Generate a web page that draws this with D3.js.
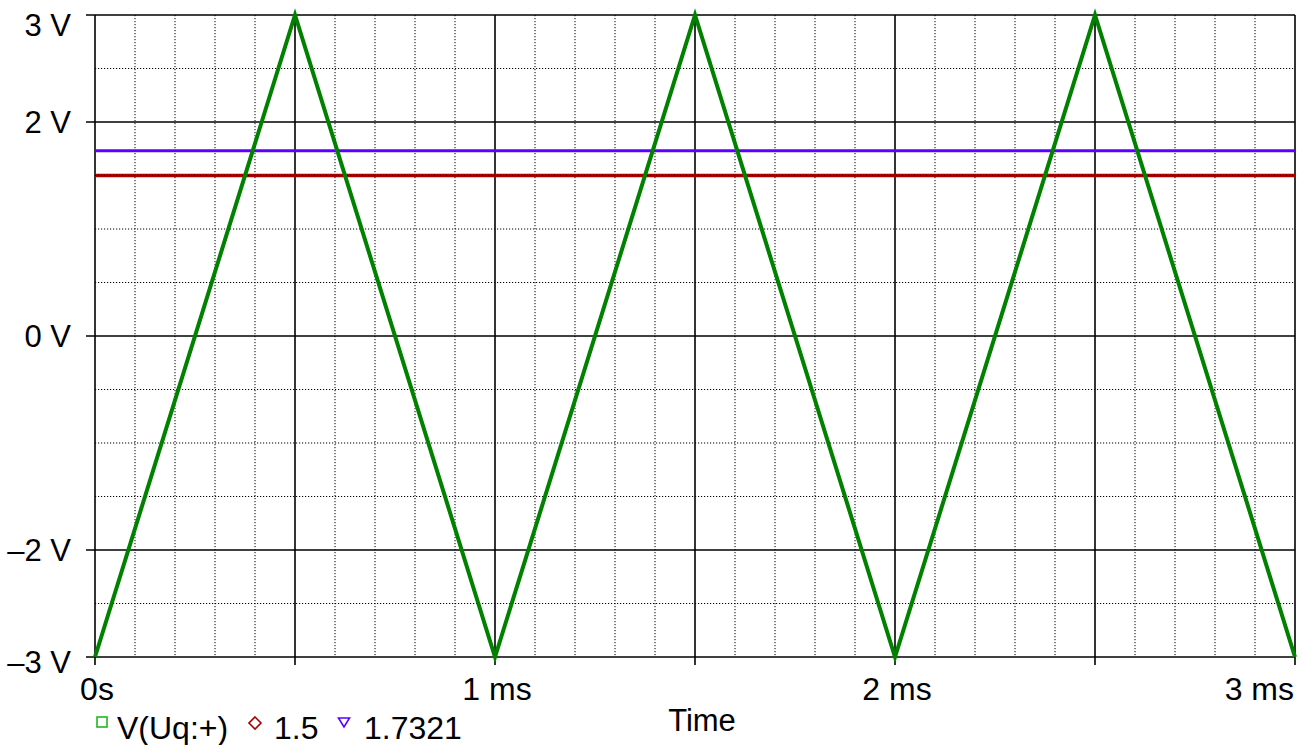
<!DOCTYPE html>
<html>
<head>
<meta charset="utf-8">
<script src="https://cdn.jsdelivr.net/npm/d3@7"></script>
<style>
  html, body { margin: 0; padding: 0; background: #fff; }
  svg { display: block; font-family: "Liberation Sans", Arial, sans-serif; }
</style>
</head>
<body>
<svg id="chart" width="1312" height="745"></svg>
<script>
// Triangle waveform V(Uq:+) in ms / volts
const timeMs = [0, 0.5, 1, 1.5, 2, 2.5, 3];
const vTriangle = [-3, 3, -3, 3, -3, 3, -3];
// Constant reference traces
const level15 = 1.5;
const level17321 = 1.7321;

// Axis tick values and labels
const yTickValues = [3, 2, 0, -2, -3];
const yTickLabels = ["3 V", "2 V", "0 V", "\u20132 V", "\u20133 V"];
const xTickValues = [0, 1, 2, 3];
const xTickLabels = ["0s", "1 ms", "2 ms", "3 ms"];
const legendLabels = ["V(Uq:+)", "1.5", "1.7321"];

(function () {
  const svg = d3.select("#chart");
  const pLeft = 95, pRight = 1295, pTop = 15, pBottom = 657;

  const x = d3.scaleLinear().domain([0, 3]).range([pLeft, pRight]);
  const y = d3.scaleLinear().domain([-3, 3]).range([pBottom, pTop]);

  const FONT = 31;
  const FONT_X = 32;

  // Vertical grid: dotted every 0.1 ms, solid every 0.5 ms
  const gGridV = svg.append("g");
  const minorX = d3.range(0, 31).map(i => i / 10).filter(t => Math.round(t * 10) % 5 !== 0);
  const majorX = d3.range(0, 7).map(i => i / 2);
  gGridV.selectAll("line.mx").data(minorX).join("line")
    .attr("x1", d => x(d)).attr("x2", d => x(d))
    .attr("y1", pTop).attr("y2", pBottom)
    .attr("stroke", "#000").attr("stroke-width", 1).attr("stroke-dasharray", "1.2,1.8");

  // Red constant trace sits beneath the horizontal grid
  svg.append("line")
    .attr("x1", x(0)).attr("x2", x(3))
    .attr("y1", y(level15)).attr("y2", y(level15))
    .attr("stroke", "#a80000").attr("stroke-width", 3.5);

  // Horizontal grid: dotted every 0.5 V, solid at labelled values
  const gGridH = svg.append("g");
  const minorY = d3.range(-6, 7).map(i => i / 2).filter(v => !yTickValues.includes(v));
  gGridH.selectAll("line.my").data(minorY).join("line")
    .attr("x1", pLeft).attr("x2", pRight)
    .attr("y1", d => y(d)).attr("y2", d => y(d))
    .attr("stroke", "#000").attr("stroke-width", 1).attr("stroke-dasharray", "1.2,1.8");
  gGridH.selectAll("line.My").data(yTickValues).join("line")
    .attr("x1", pLeft - 9).attr("x2", pRight)
    .attr("y1", d => y(d)).attr("y2", d => y(d))
    .attr("stroke", "#000").attr("stroke-width", 1.6);
  gGridV.selectAll("line.Mx").data(majorX).join("line")
    .attr("x1", d => x(d)).attr("x2", d => x(d))
    .attr("y1", pTop).attr("y2", pBottom + 8)
    .attr("stroke", "#000").attr("stroke-width", 1.6);

  // Blue constant trace
  svg.append("line")
    .attr("x1", x(0)).attr("x2", x(3))
    .attr("y1", y(level17321)).attr("y2", y(level17321))
    .attr("stroke", "#5a00ff").attr("stroke-width", 3);

  // Triangle waveform
  const pts = timeMs.map((t, i) => [t, vTriangle[i]]);
  svg.append("path")
    .datum(pts)
    .attr("d", d3.line().x(d => x(d[0])).y(d => y(d[1])))
    .attr("fill", "none").attr("stroke", "#008200").attr("stroke-width", 4)
    .attr("stroke-linejoin", "miter");

  // Y tick labels
  svg.append("g").selectAll("text").data(yTickValues).join("text")
    .attr("x", 71)
    .attr("y", d => Math.max(y(d), pTop + 10) + 0.35 * FONT + (d === -3 ? 5 : 0))
    .attr("text-anchor", "end")
    .attr("font-size", FONT)
    .text((d, i) => yTickLabels[i]);

  // X tick labels
  svg.append("g").selectAll("text").data(xTickValues).join("text")
    .attr("x", d => d === 3 ? x(d) - 1 : x(d) + 2)
    .attr("y", 700)
    .attr("text-anchor", d => d === 3 ? "end" : "middle")
    .attr("font-size", FONT_X)
    .text((d, i) => xTickLabels[i]);

  // Axis title
  svg.append("text")
    .attr("x", 702).attr("y", 731)
    .attr("text-anchor", "middle")
    .attr("font-size", FONT)
    .text("Time");

  // Legend
  const lg = svg.append("g");
  lg.append("rect").attr("x", 97).attr("y", 717).attr("width", 10).attr("height", 10)
    .attr("fill", "none").attr("stroke", "#1fb81f").attr("stroke-width", 1.6);
  lg.append("text").attr("x", 117).attr("y", 739).attr("font-size", FONT_X).text(legendLabels[0]);
  lg.append("path").attr("d", "M255,717 L261,723 L255,729 L249,723 Z")
    .attr("fill", "none").attr("stroke", "#a80000").attr("stroke-width", 1.6);
  lg.append("text").attr("x", 274).attr("y", 739).attr("font-size", FONT_X).text(legendLabels[1]);
  lg.append("path").attr("d", "M338.5,718 L349.5,718 L344,727 Z")
    .attr("fill", "none").attr("stroke", "#5a00ff").attr("stroke-width", 1.6);
  lg.append("text").attr("x", 364).attr("y", 739).attr("font-size", FONT_X).text(legendLabels[2]);
})();
</script>
</body>
</html>
